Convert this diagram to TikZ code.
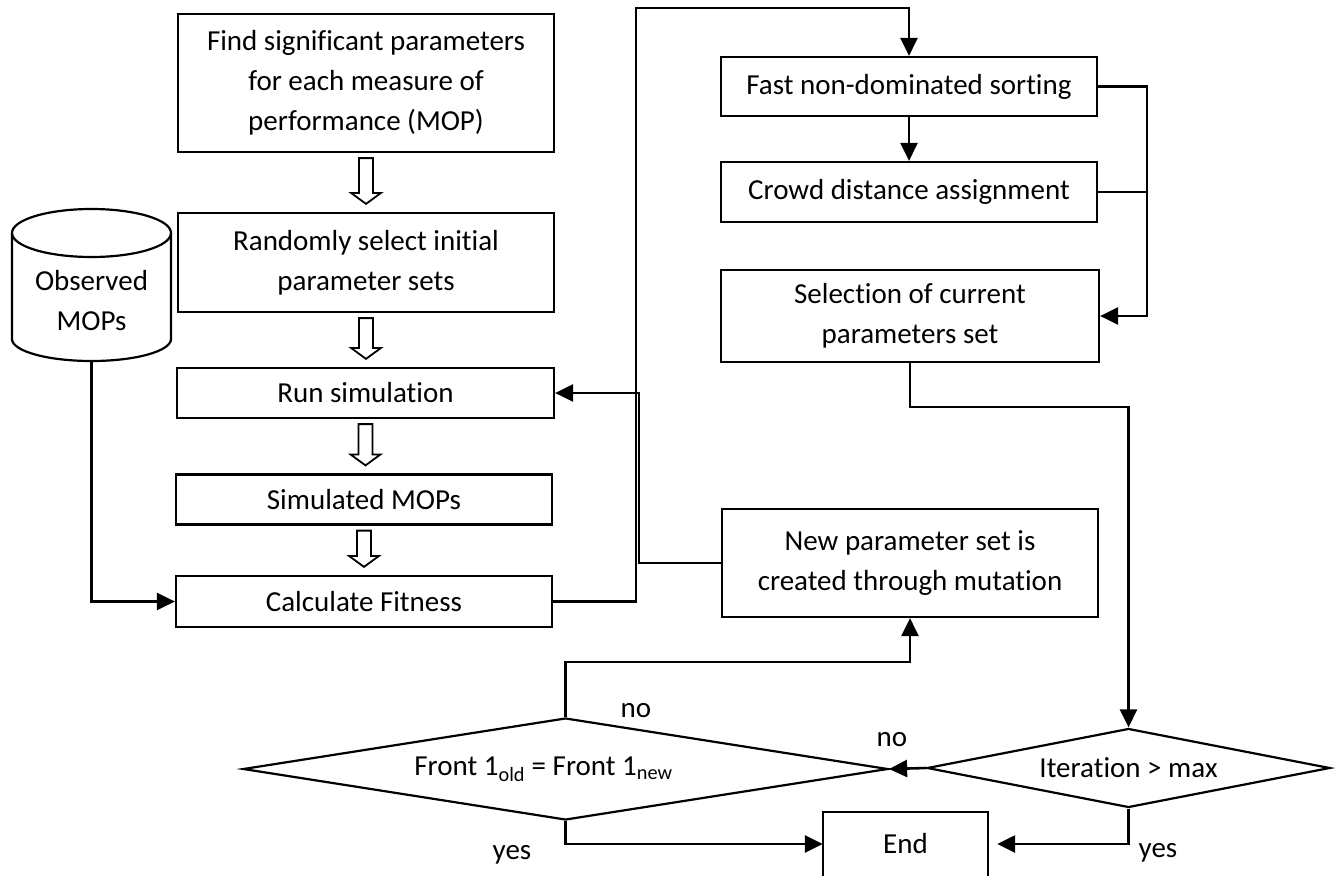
\documentclass[tikz,border=0pt]{standalone}
\usepackage{fontspec}
\setmainfont[RawFeature={-liga;-dlig;-calt;-clig}]{Carlito}
\usetikzlibrary{arrows.meta,shapes.geometric,calc}
\newcommand\hollowarr[2]{\draw[hollow] let \p1=(#1.south), \p2=(#2.north) in
 (\x1-7pt,\y1-5pt) -- (\x1+7pt,\y1-5pt) -- (\x1+7pt,\y2+19pt) -- (\x1+15pt,\y2+19pt) -- (\x1,\y2+8pt) -- (\x1-15pt,\y2+19pt) -- (\x1-7pt,\y2+19pt) -- cycle;}
\begin{document}
\begin{tikzpicture}[x=1pt,y=-1pt,
  txt/.style={font=\fontsize{29}{40}\selectfont},
  box/.style={txt,draw,line width=2.2pt,inner sep=0pt,align=center},
  dec/.style={txt,diamond,draw,line width=2.2pt,inner sep=0pt},
  hollow/.style={draw,line width=1.8pt,fill=white},
  conn/.style={line width=2.6pt,-{Triangle[length=18pt,width=17pt]}},
  plain/.style={line width=2.6pt},
  lbl/.style={txt,inner sep=0pt}]
\useasboundingbox (0,0) rectangle (1337,875);

% left column
\node[box,minimum width=376,minimum height=138] (A) at (366,83) {Find significant parameters\\for each measure of\\performance (MOP)};
\node[box,minimum width=376,minimum height=99] (B) at (366,262.5) {Randomly select initial\\parameter sets};
\node[box,minimum width=377,minimum height=50] (C) at (365.5,393) {Run simulation};
\node[box,minimum width=376,minimum height=50] (D) at (364,499.5) {Simulated MOPs};
\node[box,minimum width=376,minimum height=51] (E) at (364,601.5) {Calculate Fitness};

\hollowarr{A}{B}
\hollowarr{B}{C}
\hollowarr{C}{D}
\hollowarr{D}{E}

% cylinder
\draw[line width=2.2pt,fill=white] (12,233) -- (12,339) arc[start angle=180,end angle=360,x radius=79.5pt,y radius=22pt] -- (171,233);
\draw[line width=2.2pt] (91.5,233) ellipse[x radius=79.5pt,y radius=24pt];
\node[txt,align=center,inner sep=0pt] (obs) at (91.5,301) {Observed\\MOPs};
\coordinate (obsb) at (91.5,361);

% right column
\node[box,minimum width=376,minimum height=59] (F) at (909,86.5) {Fast non-dominated sorting};
\node[box,minimum width=376,minimum height=60] (G) at (909,192) {Crowd distance assignment};
\node[box,minimum width=378,minimum height=92] (H) at (910,316) {Selection of current\\parameters set};
\node[box,minimum width=376,minimum height=108] (I) at (910,563) {New parameter set is\\created through mutation};

% decisions
\node[dec,aspect=6.3,minimum width=645,minimum height=102] (front) at (565.5,769) {Front 1\textsubscript{old} = Front 1\textsubscript{new}\hspace*{44pt}};
\node[dec,aspect=5.1,minimum width=403,minimum height=79] (iter) at (1128.5,768) {Iteration > max};

% end
\node[txt,minimum width=165,minimum height=64,inner sep=0pt] (end) at (905.5,844) {End};
\draw[line width=2.2pt] (end.south west) -- (end.north west) -- (end.north east) -- (end.south east);

% coordinates for bends
\coordinate (c1) at (636,8);
\coordinate (r) at (1147,86.5);
\coordinate (hk) at (910,407);
\coordinate (fn) at (565.5,662);
\coordinate (ic) at (639,563);

% connectors
\draw[conn] (obsb) |- (E.west);
\draw[conn] (E.east) -| (c1) -| (F.north);
\draw[conn] (F.south) -- (G.north);
\draw[conn] (F.east) -- (r) |- (H.east);
\draw[plain] (G.east) -- (G.east -| r);
\draw[conn] (H.south) -- (hk) -| (iter.north);
\draw[conn] (iter.west) -- (front.east);
\draw[conn] (front.north) -- (fn) -| (I.south);
\draw[conn] (I.west) -- (ic) |- (C.east);
\draw[conn] (front.south) |- (end.west);
\draw[conn,shorten >=9pt] (iter.south) |- (end.east);

% labels
\node[lbl] (no1) at (636,711) {no};
\node[lbl] (no2) at (892,740) {no};
\node[lbl] (yes1) at (512,855) {yes};
\node[lbl] (yes2) at (1158,853) {yes};
\end{tikzpicture}
\end{document}
